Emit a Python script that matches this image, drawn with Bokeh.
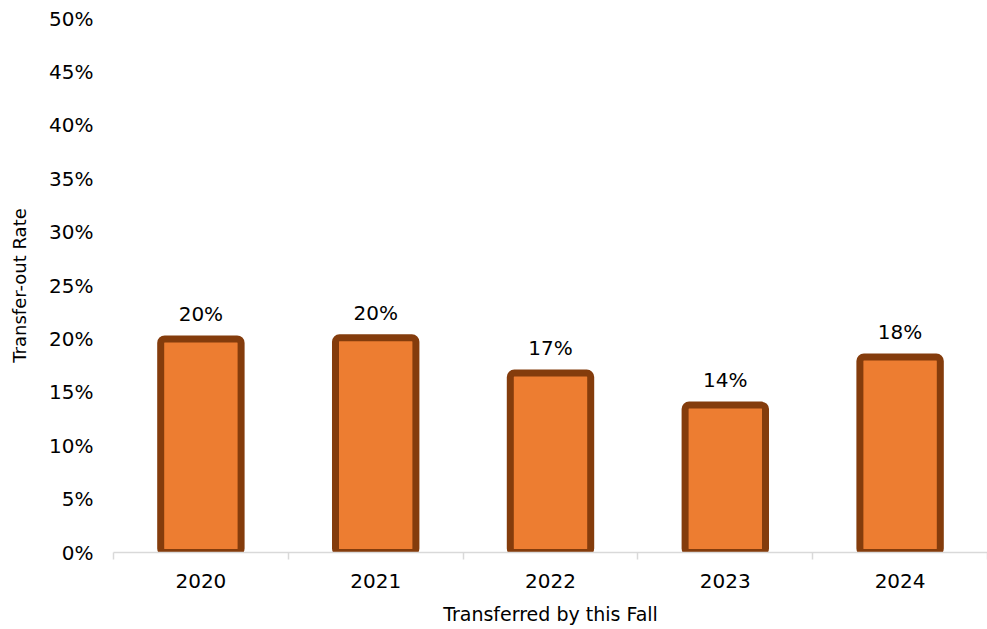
import numpy as np
from bokeh.plotting import figure
from bokeh.models import (ColumnDataSource, FixedTicker, NumeralTickFormatter,
                          LabelSet, Range1d)
from bokeh.core.properties import value
from bokeh.embed import file_html
from bokeh.resources import INLINE

years = ["2020", "2021", "2022", "2023", "2024"]
rates = [0.200, 0.201, 0.168, 0.138, 0.183]
rate_labels = ["20%", "20%", "17%", "14%", "18%"]
y_ticks = [0.0, 0.05, 0.10, 0.15, 0.20, 0.25, 0.30, 0.35, 0.40, 0.45, 0.50]

FONT = "DejaVu Sans"

xpos = np.arange(len(years)) + 0.5
src = ColumnDataSource(dict(x=xpos, top=rates, label=rate_labels))

p = figure(width=987, height=629, output_backend="svg", toolbar_location=None,
           x_range=Range1d(0, len(years)), y_range=Range1d(0, 0.5),
           min_border_left=113, min_border_top=18, min_border_right=0,
           min_border_bottom=77)
p.outline_line_color = None
p.background_fill_color = "white"
p.border_fill_color = "white"
p.xgrid.grid_line_color = None
p.ygrid.grid_line_color = None

p.vbar(x="x", top="top", bottom=0, width=0.46, source=src,
       fill_color="#ED7D31", line_color="#843C0C", line_width=7,
       border_radius=4)

labels = LabelSet(x="x", y="top", text="label", source=src,
                  text_align="center", text_baseline="bottom", y_offset=13,
                  text_font=value(FONT), text_font_size=value("20px"),
                  text_color="#000000")
p.add_layout(labels)

# x axis
xa = p.xaxis[0]
xa.ticker = FixedTicker(ticks=list(xpos), minor_ticks=list(range(len(years) + 1)))
xa.major_label_overrides = {float(x): y for x, y in zip(xpos, years)}
xa.major_tick_out = 0
xa.major_tick_in = 0
xa.minor_tick_out = 7
xa.minor_tick_in = 0
xa.minor_tick_line_color = "#D9D9D9"
xa.minor_tick_line_width = 1.5
xa.axis_line_color = "#D9D9D9"
xa.axis_line_width = 1.5
xa.major_label_text_font = FONT
xa.major_label_text_font_size = "20px"
xa.major_label_text_color = "#000000"
xa.major_label_standoff = 14
xa.axis_label = "Transferred by this Fall"
xa.axis_label_text_font = FONT
xa.axis_label_text_font_size = "19px"
xa.axis_label_text_font_style = "normal"
xa.axis_label_text_color = "#000000"
xa.axis_label_standoff = 12

# y axis
ya = p.yaxis[0]
ya.ticker = FixedTicker(ticks=y_ticks)
ya.formatter = NumeralTickFormatter(format="0%")
ya.axis_line_color = None
ya.major_tick_line_color = None
ya.minor_tick_line_color = None
ya.major_tick_out = 0
ya.major_tick_in = 0
ya.major_label_text_font = FONT
ya.major_label_text_font_size = "20px"
ya.major_label_text_color = "#000000"
ya.major_label_standoff = 20
ya.axis_label = "Transfer-out Rate"
ya.axis_label_text_font = FONT
ya.axis_label_text_font_size = "18px"
ya.axis_label_text_font_style = "normal"
ya.axis_label_text_color = "#000000"
ya.axis_label_standoff = 16

open("out.html", "w").write(file_html(p, INLINE))
